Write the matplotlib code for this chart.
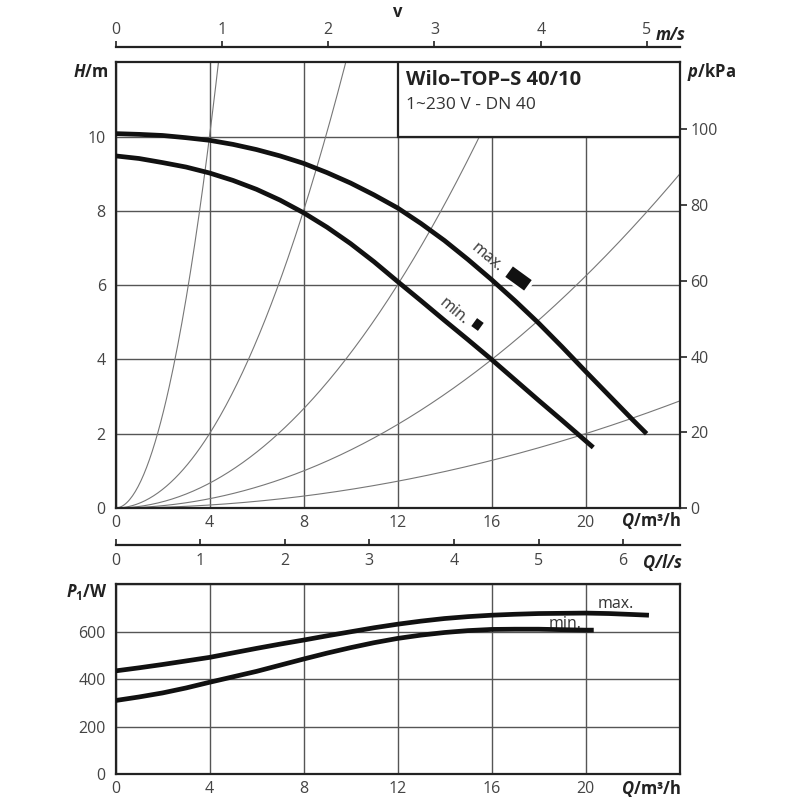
import numpy as np
import matplotlib
matplotlib.use("Agg")
import matplotlib.pyplot as plt
from matplotlib.patches import Rectangle
from matplotlib.path import Path

# ---------------- data ----------------
q_grid_ticks = [0, 4, 8, 12, 16, 20]
h_ticks = [0, 2, 4, 6, 8, 10]
p_kpa_ticks = [0, 20, 40, 60, 80, 100]
v_ticks = [0, 1, 2, 3, 4, 5]
qls_ticks = [0, 1, 2, 3, 4, 5, 6]
p1_ticks = [0, 200, 400, 600]

# pump head curves (Q in m3/h, H in m)
q_max_h = [0, 1, 2, 3, 4, 5, 6, 7, 8, 9, 10, 11, 12, 13, 14, 15, 16, 17, 18,
           19, 20, 21, 22, 22.6]
h_max = [10.08, 10.06, 10.03, 9.97, 9.9, 9.79, 9.65, 9.48, 9.28, 9.03, 8.75,
         8.43, 8.08, 7.66, 7.2, 6.69, 6.15, 5.58, 4.98, 4.34, 3.68, 3.03, 2.38,
         2.0]
q_min_h = [0, 1, 2, 3, 4, 5, 6, 7, 8, 9, 10, 11, 12, 13, 14, 15, 16, 17, 18,
           19, 20, 20.33]
h_min = [9.48, 9.41, 9.3, 9.18, 9.02, 8.82, 8.58, 8.29, 7.95, 7.56, 7.12, 6.63,
         6.1, 5.58, 5.05, 4.53, 4.0, 3.45, 2.9, 2.36, 1.81, 1.63]

# system curve coefficients H = k * Q^2
system_k = [0.625, 0.125, 0.0417, 0.0156, 0.005]

# power curves (Q in m3/h, P1 in W)
q_max_p = [0, 1, 2, 3, 4, 5, 6, 7, 8, 9, 10, 11, 12, 13, 14, 15, 16, 17, 18,
           19, 20, 21, 22, 22.7]
p_max = [435, 448, 462, 477, 492, 511, 530, 548, 565, 583, 600, 617, 632, 645,
         656, 664, 670, 674, 677, 678, 679, 677, 673, 670]
q_min_p = [0, 1, 2, 3, 4, 5, 6, 7, 8, 9, 10, 11, 12, 13, 14, 15, 16, 17, 18,
           19, 20, 20.35]
p_min = [310, 325, 342, 363, 387, 410, 433, 459, 485, 510, 533, 554, 572, 586,
         597, 605, 610, 611, 611, 609, 607, 607]

title = "Wilo–TOP–S 40/10"
subtitle = "1~230 V - DN 40"

# ---------------- fonts ----------------
base = "Open Sans"
plt.rcParams["font.family"] = [base, "DejaVu Sans"]
plt.rcParams["mathtext.fontset"] = "custom"
plt.rcParams["mathtext.it"] = f"{base}:italic:bold"
plt.rcParams["mathtext.rm"] = f"{base}:bold"
plt.rcParams["mathtext.bf"] = f"{base}:bold"

TICK_FS = 11.5
TICK_C = "#444444"
GRID_C = "#555555"
SYS_C = "#777777"
FRAME_LW = 1.6
CURVE_LW = 3.4

fig = plt.figure(figsize=(8, 8), dpi=100)
L, W = 115.5 / 800, 564 / 800
ax = fig.add_axes([L, 1 - 508 / 800, W, 445.7 / 800])
axp = fig.add_axes([L, 1 - 774 / 800, W, 189.6 / 800])

for a in (ax, axp):
    for s in a.spines.values():
        s.set_linewidth(FRAME_LW)
        s.set_color("#222222")
    a.set_axisbelow(True)
    a.grid(True, color=GRID_C, lw=1.0)
    a.set_xlim(0, 24)
    a.set_xticks(q_grid_ticks)
    a.tick_params(axis="both", length=0, labelsize=TICK_FS, labelcolor=TICK_C)
    a.tick_params(axis="x", pad=5)
    a.tick_params(axis="y", pad=7)

# ---------------- top chart ----------------
ax.set_ylim(0, 12)
ax.set_yticks(h_ticks)

qq = np.linspace(0, 24, 400)
for k in system_k:
    ax.plot(qq, k * qq ** 2, color=SYS_C, lw=0.8, zorder=1.5)

box = Rectangle((12, 10), 12, 2, facecolor="white", edgecolor="#222222",
                lw=FRAME_LW, zorder=3)
ax.add_patch(box)
ax.text(12.35, 11.52, title, fontsize=14.5, fontweight="bold", va="center",
        ha="left", color="#222222", zorder=4)
ax.text(12.35, 10.85, subtitle, fontsize=12.5, va="center", ha="left",
        color="#333333", zorder=4)

for qx, hy in ((q_max_h, h_max), (q_min_h, h_min)):
    ax.plot(qx, hy, color="#111111", lw=CURVE_LW, solid_capstyle="butt",
            solid_joinstyle="round", zorder=4)

# curve labels with speed markers
def rect_marker(w, h, ang):
    t = np.deg2rad(ang)
    pts = np.array([[-w, -h], [w, -h], [w, h], [-w, h], [-w, -h]]) / 2
    R = np.array([[np.cos(t), -np.sin(t)], [np.sin(t), np.cos(t)]])
    return Path(pts @ R.T, closed=True)

ax.text(15.83, 6.74, "max.", rotation=-40, fontsize=11.5, color="#333333",
        ha="center", va="center", rotation_mode="anchor", zorder=5)
ax.text(14.40, 5.30, "min.", rotation=-40, fontsize=11.5, color="#333333",
        ha="center", va="center", rotation_mode="anchor", zorder=5)
m_big = rect_marker(1.8, 1.0, -36)
m_small = rect_marker(1.0, 1.15, -36)
ax.plot([17.14], [6.18], marker=m_big, ms=21, color="#111111",
        mec="white", mew=3, zorder=5)
ax.plot([17.14], [6.18], marker=m_big, ms=19, color="#111111", mew=0, zorder=6)
ax.plot([15.37], [4.96], marker=m_small, ms=12, color="#111111",
        mec="white", mew=2, zorder=5)

# right pressure axis
ax2 = ax.twinx()
ax2.set_ylim(0, 12 * 9.81)
ax2.set_yticks(p_kpa_ticks)
for s in ax2.spines.values():
    s.set_visible(False)
ax2.tick_params(axis="y", length=5, width=1.2, color="#222222", pad=3,
                labelsize=TICK_FS, labelcolor=TICK_C)

# velocity axis (DN 40)
area = np.pi * 0.020 ** 2
sec_v = ax.secondary_xaxis(1.035, functions=(lambda q: q / 3600 / area,
                                             lambda v: v * 3600 * area))
sec_v.set_xticks(v_ticks)
for s in sec_v.spines.values():
    s.set_linewidth(1.6)
    s.set_color("#222222")
sec_v.tick_params(length=4, width=1.2, color="#222222", pad=2,
                  labelsize=TICK_FS, labelcolor=TICK_C)

# Q l/s axis
sec_q = ax.secondary_xaxis(-0.083, functions=(lambda q: q / 3.6, lambda l: l * 3.6))
sec_q.set_xticks(qls_ticks)
for s in sec_q.spines.values():
    s.set_linewidth(1.6)
    s.set_color("#222222")
sec_q.tick_params(direction="in", length=4, width=1.2, color="#222222", pad=6,
                  labelsize=TICK_FS, labelcolor=TICK_C)

# axis labels (top chart)
LAB = dict(fontsize=12, fontweight="bold", color="#222222")
ax.text(-0.012, 0.978, r"$H$/m", transform=ax.transAxes, ha="right", va="center", **LAB)
ax.text(1.014, 0.978, r"$p$/kPa", transform=ax.transAxes, ha="left", va="center", **LAB)
ax.text(1.003, -0.027, r"$Q$/m³/h", transform=ax.transAxes, ha="right", va="center", **LAB)
ax.text(0.5, 1.113, "v", transform=ax.transAxes, ha="center", va="center", **LAB)
ax.text(1.01, 1.062, "m/s", transform=ax.transAxes, ha="right", va="center",
        fontstyle="italic", **LAB)
ax.text(1.005, -0.124, "Q/l/s", transform=ax.transAxes, ha="right", va="center",
        fontstyle="italic", **LAB)

# ---------------- bottom chart ----------------
axp.set_ylim(0, 800)
axp.set_yticks(p1_ticks + [800])
axp.set_yticklabels([str(t) for t in p1_ticks] + [""])
for qx, py in ((q_max_p, p_max), (q_min_p, p_min)):
    axp.plot(qx, py, color="#111111", lw=CURVE_LW, solid_capstyle="butt",
             solid_joinstyle="round", zorder=4)
axp.text(21.3, 716, "max.", fontsize=11.5, color="#333333", ha="center", va="center")
axp.text(19.13, 635, "min.", fontsize=11.5, color="#333333", ha="center", va="center")
axp.text(-0.013, 0.96, r"$P_1$/W", transform=axp.transAxes, ha="right", va="center", **LAB)
axp.text(1.003, -0.074, r"$Q$/m³/h", transform=axp.transAxes, ha="right", va="center", **LAB)

fig.savefig("out.png", dpi=100)
